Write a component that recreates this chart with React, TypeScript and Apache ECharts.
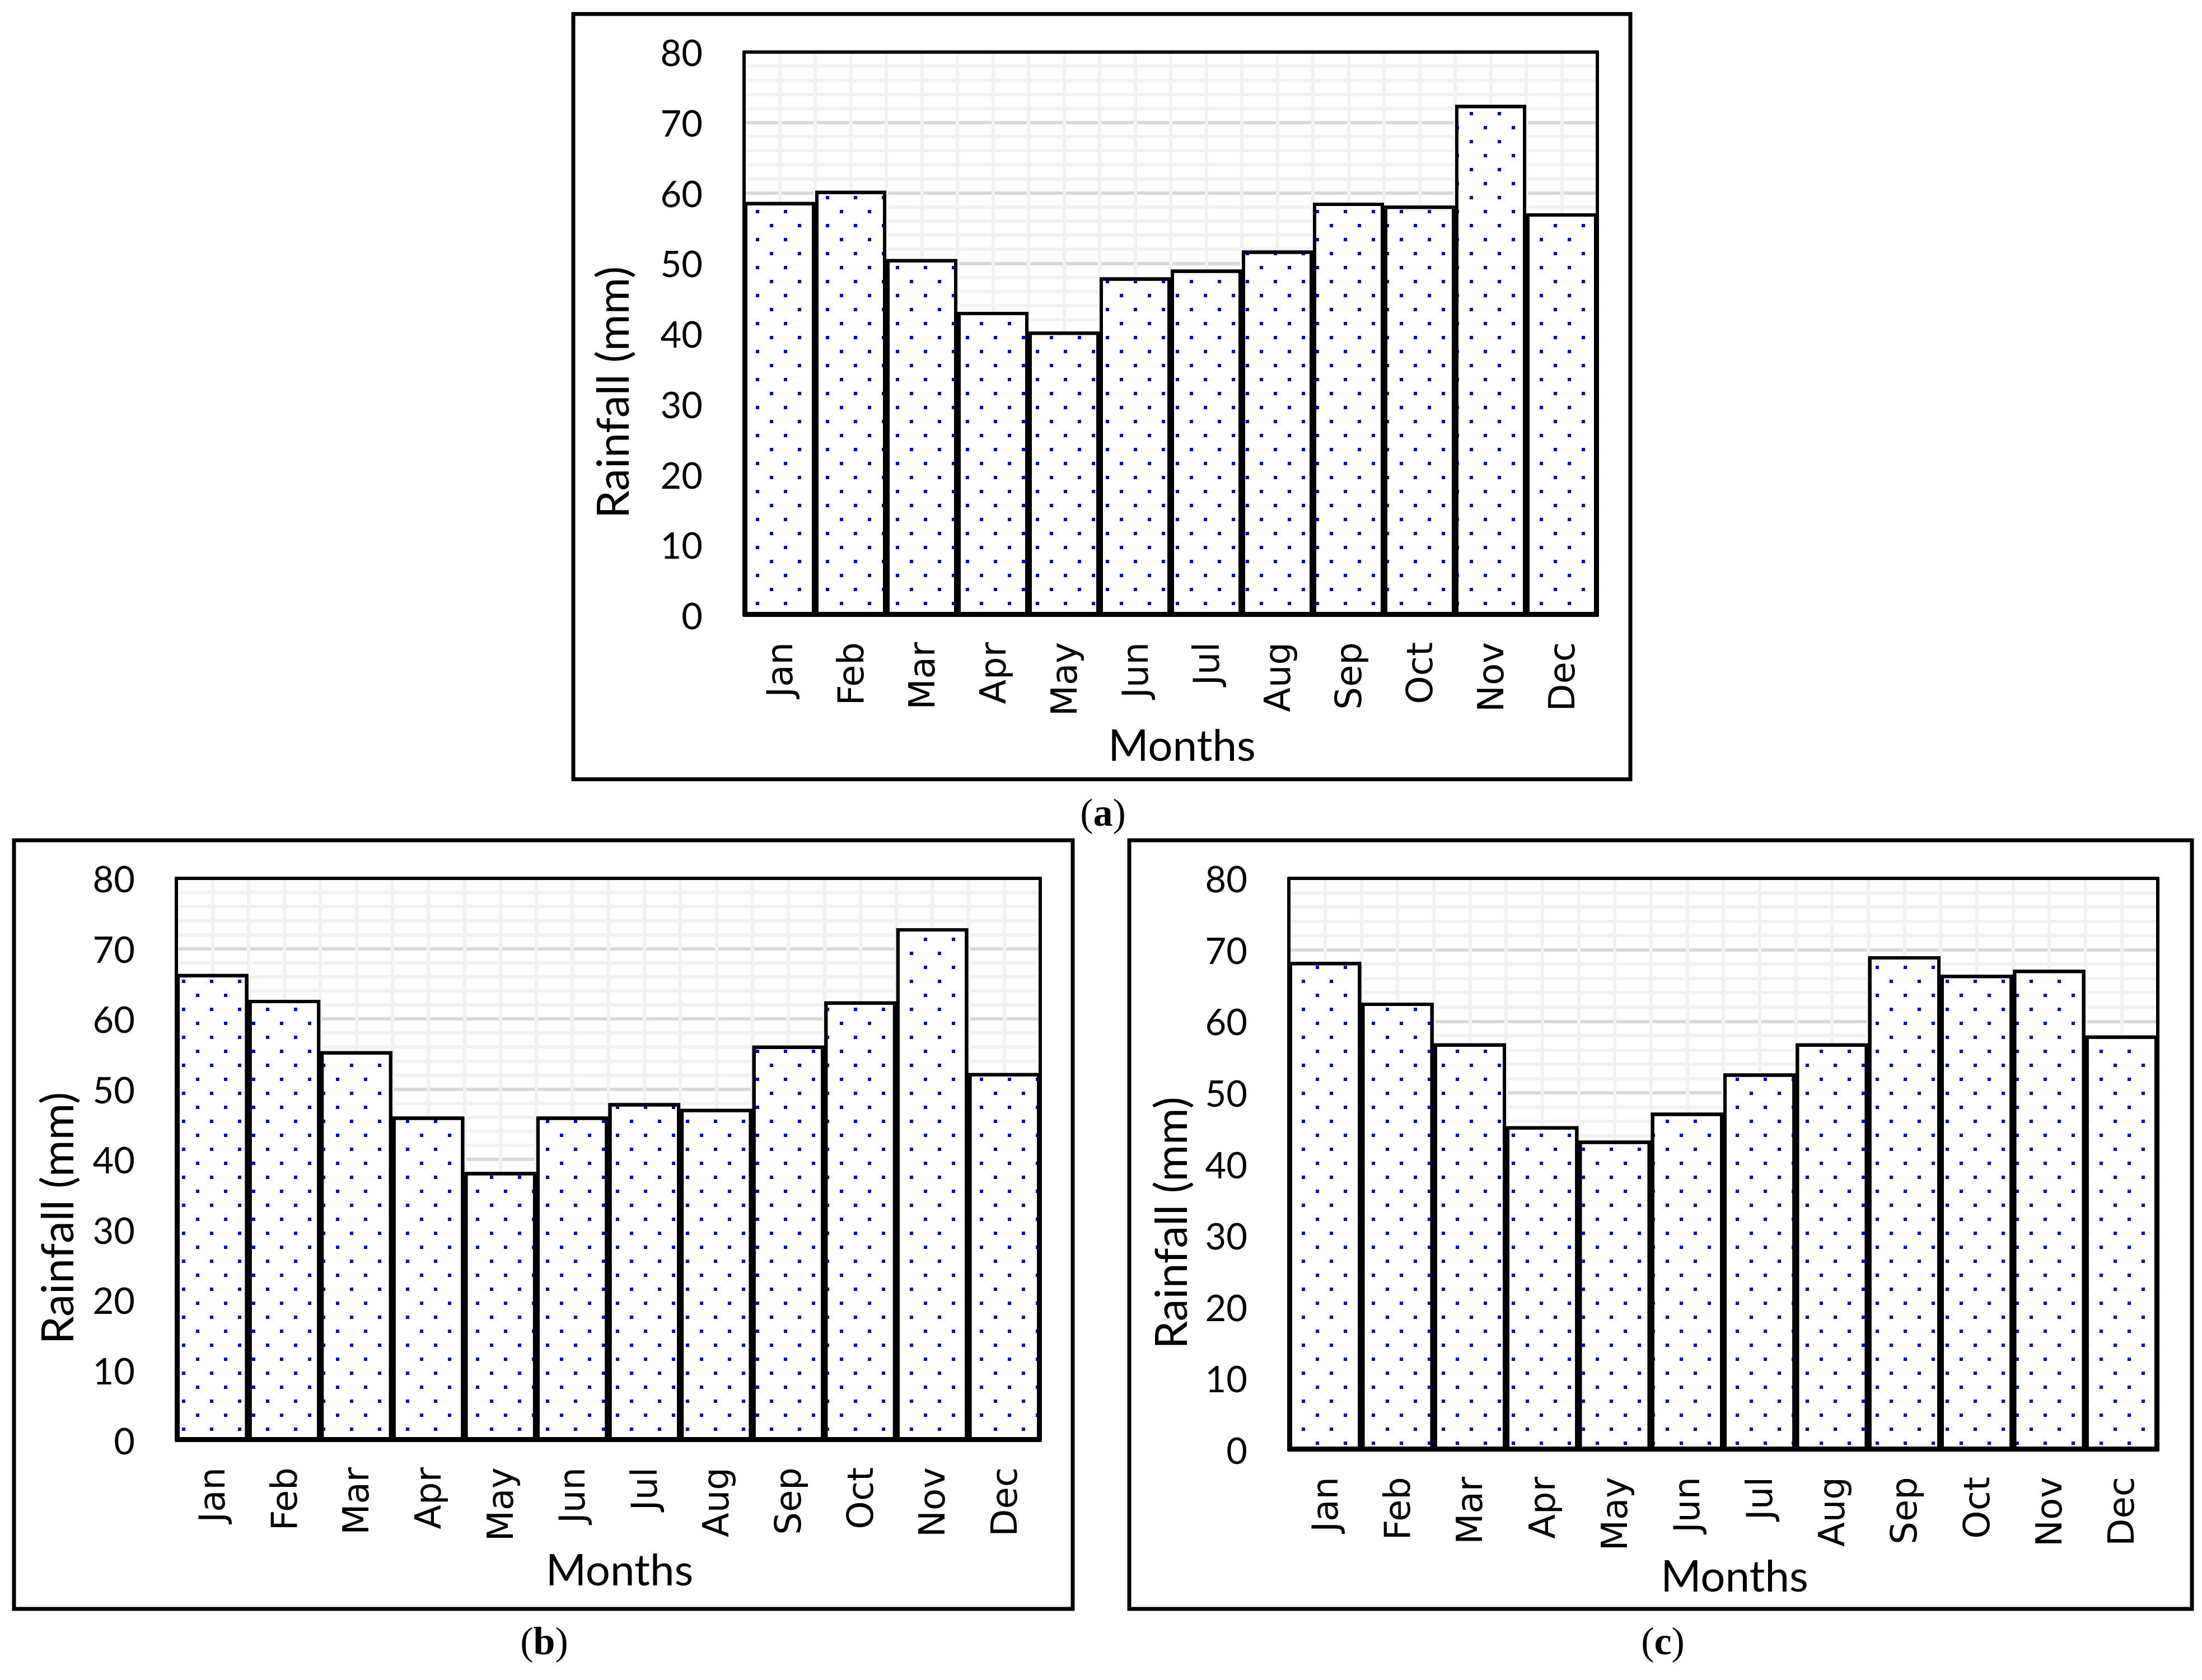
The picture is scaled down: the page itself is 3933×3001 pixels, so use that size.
import React, { useEffect, useRef } from "react";
import * as echarts from "echarts";

// ---------- data ----------
const months = ["Jan", "Feb", "Mar", "Apr", "May", "Jun", "Jul", "Aug", "Sep", "Oct", "Nov", "Dec"];
const rainfallA = [58.7, 60.3, 50.6, 43.1, 40.3, 48.0, 49.1, 51.8, 58.6, 58.2, 72.5, 57.1];
const rainfallB = [66.4, 62.7, 55.4, 46.1, 38.2, 46.1, 48.0, 47.2, 56.2, 62.5, 72.9, 52.3];
const rainfallC = [68.3, 62.6, 56.9, 45.3, 43.3, 47.2, 52.7, 56.9, 69.1, 66.5, 67.2, 58.0];
const yMin = 0;
const yMax = 80;
const yInterval = 10;
const panelLetters = ["a", "b", "c"];
const yAxisTitle = "Rainfall (mm)";
const xAxisTitle = "Months";
const datasets = [rainfallA, rainfallB, rainfallC];

// ---------- layout (pixels) ----------
const layouts = [
  {
    grid: { left: 1329, top: 93, width: 1524, height: 1006 },
    frame: { x: 1024, y: 25, width: 1888, height: 1367 },
    label: { x: 1970, y: 1451 },
    yGap: 197,
    xGap: 191,
  },
  {
    grid: { left: 315, top: 1569, width: 1543, height: 1004 },
    frame: { x: 25, y: 1501, width: 1891, height: 1373 },
    label: { x: 972, y: 2931 },
    yGap: 175,
    xGap: 190,
  },
  {
    grid: { left: 2302, top: 1569, width: 1552, height: 1021 },
    frame: { x: 2017, y: 1501, width: 1898, height: 1373 },
    label: { x: 2970, y: 2931 },
    yGap: 173,
    xGap: 168,
  },
];

const BLACK = "#000000";
const MAJOR = "#d9d9d9";
const MINOR = "#f2f2f2";
const DOT = "#0000cc";

function buildOption() {
  const grid: any[] = [];
  const xAxis: any[] = [];
  const yAxis: any[] = [];
  const series: any[] = [];
  const graphic: any[] = [];

  layouts.forEach((L, i) => {
    grid.push({ ...L.grid, containLabel: false, show: false });

    xAxis.push({
      type: "category",
      gridIndex: i,
      data: months,
      position: "bottom",
      boundaryGap: true,
      axisLine: { show: true, onZero: false, lineStyle: { color: BLACK, width: 6 } },
      axisTick: { show: false },
      axisLabel: {
        interval: 0,
        rotate: 90,
        margin: 48,
        fontFamily: "DejaVu Sans",
        fontSize: 64,
        color: BLACK,
      },
      splitLine: { show: false },
      name: xAxisTitle,
      nameLocation: "middle",
      nameGap: L.xGap,
      nameTextStyle: { fontFamily: "Lato", fontSize: 78, color: BLACK, padding: [0, 0, 0, 40] },
    });
    xAxis.push({
      type: "value",
      gridIndex: i,
      position: "top",
      min: 0,
      max: months.length * 2,
      interval: 1,
      axisLine: { show: true, onZero: false, lineStyle: { color: BLACK, width: 6 } },
      axisTick: { show: false },
      axisLabel: { show: false },
      splitLine: {
        show: true,
        showMinLine: false,
        showMaxLine: false,
        lineStyle: { color: MINOR, width: 6 },
      },
    });

    yAxis.push({
      type: "value",
      gridIndex: i,
      position: "left",
      min: yMin,
      max: yMax,
      interval: yInterval,
      axisLine: { show: true, onZero: false, lineStyle: { color: BLACK, width: 6 } },
      axisTick: { show: false },
      axisLabel: { margin: 74, fontFamily: "Lato", fontSize: 65, color: BLACK },
      splitLine: {
        show: true,
        showMinLine: false,
        showMaxLine: false,
        lineStyle: { color: MAJOR, width: 6 },
      },
      minorTick: { show: false, splitNumber: 5 },
      minorSplitLine: { show: true, lineStyle: { color: MINOR, width: 6 } },
      name: yAxisTitle,
      nameLocation: "middle",
      nameGap: L.yGap,
      nameTextStyle: { fontFamily: "Lato", fontSize: 80, color: BLACK, padding: [0, 210, 0, 0] },
    });
    yAxis.push({
      type: "value",
      gridIndex: i,
      position: "right",
      min: yMin,
      max: yMax,
      interval: yInterval,
      axisLine: { show: true, onZero: false, lineStyle: { color: BLACK, width: 6 } },
      axisTick: { show: false },
      axisLabel: { show: false },
      splitLine: { show: false },
    });

    series.push({
      type: "bar",
      name: "(" + panelLetters[i] + ")",
      xAxisIndex: 2 * i,
      yAxisIndex: 2 * i,
      data: datasets[i],
      barCategoryGap: "0%",
      itemStyle: {
        color: "#ffffff",
        borderColor: BLACK,
        borderWidth: 6,
        decal: {
          symbol: "rect",
          symbolSize: 1,
          color: DOT,
          dashArrayX: [
            [6, 44],
            [0, 25, 6, 19],
          ],
          dashArrayY: [6, 19],
          rotation: 0,
        },
      },
      emphasis: { disabled: true },
    });

    graphic.push({
      type: "rect",
      silent: true,
      shape: { ...L.frame },
      style: { fill: "none", stroke: BLACK, lineWidth: 7 },
    });
    graphic.push({
      type: "text",
      silent: true,
      x: L.label.x,
      y: L.label.y,
      style: {
        text: "({b|" + panelLetters[i] + "})",
        fontFamily: "Liberation Serif",
        fontSize: 70,
        fill: BLACK,
        align: "center",
        verticalAlign: "middle",
        rich: {
          b: { fontFamily: "Liberation Serif", fontSize: 70, fontWeight: "bold", fill: BLACK },
        },
      },
    });
  });

  return {
    animation: false,
    backgroundColor: "#ffffff",
    grid,
    xAxis,
    yAxis,
    series,
    graphic,
  };
}

export default function App() {
  const ref = useRef<HTMLDivElement>(null);
  useEffect(() => {
    document.body.style.margin = "0";
    if (!ref.current) return;
    const chart = echarts.init(ref.current, undefined, { renderer: "svg" });
    chart.setOption(buildOption() as any);
    return () => {
      chart.dispose();
    };
  }, []);
  return <div ref={ref} style={{ width: 3933, height: 3001 }} />;
}
